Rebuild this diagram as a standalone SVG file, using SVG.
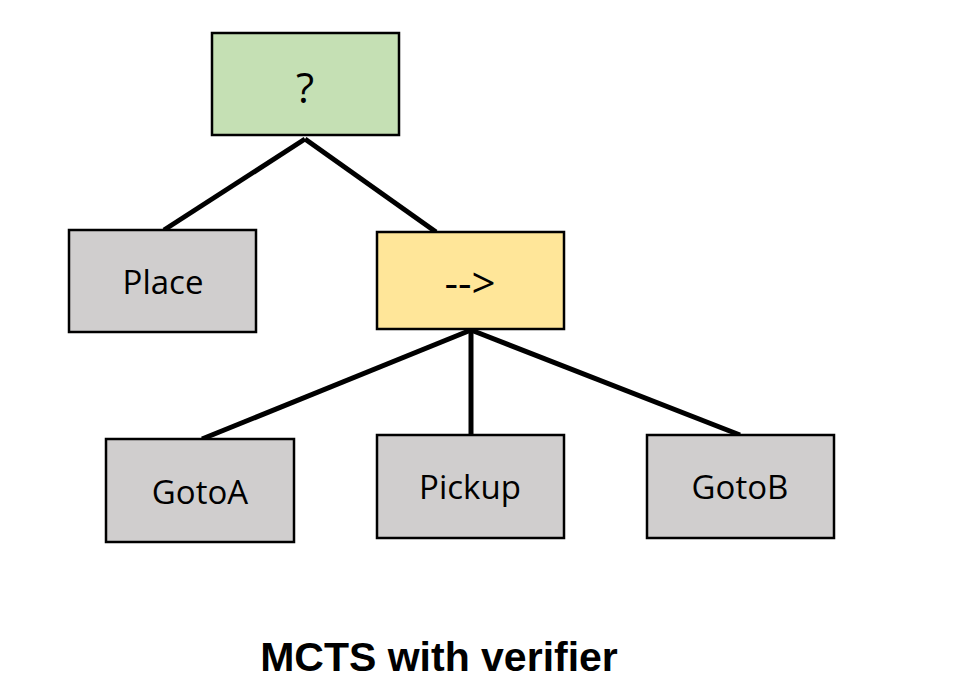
<svg xmlns="http://www.w3.org/2000/svg" width="964" height="680" viewBox="0 0 964 680">
<style>
.box{stroke:#000;stroke-width:2.5}
.lbl{font-family:"Open Sans","Liberation Sans",sans-serif;font-size:33px;fill:#000;text-anchor:middle}
.big{font-size:42px}
.edge{stroke:#000;stroke-width:5;fill:none}
.title{font-family:"Liberation Sans",Arial,sans-serif;font-weight:bold;font-size:41px;fill:#000;text-anchor:middle}
</style>
<rect width="964" height="680" fill="#fff"/>
<g id="connectors">
<line class="edge" x1="305" y1="139" x2="164" y2="230"/>
<line class="edge" x1="305" y1="139" x2="436" y2="232"/>
<line class="edge" x1="471" y1="330" x2="202" y2="439"/>
<line class="edge" x1="471" y1="330" x2="471" y2="435"/>
<line class="edge" x1="471" y1="330" x2="740" y2="435"/>
</g>
<g id="root">
<rect class="box" x="212" y="33" width="187" height="102" fill="#C5E0B4"/>
<text class="lbl big" x="305" y="103">?</text>
</g>
<g id="place">
<rect class="box" x="69" y="230" width="187" height="102" fill="#D0CECE"/>
<text class="lbl" x="163" y="294">Place</text>
</g>
<g id="sequence">
<rect class="box" x="377" y="232" width="187" height="97" fill="#FFE699"/>
<text class="lbl big" x="470" y="298">--&gt;</text>
</g>
<g id="gotoA">
<rect class="box" x="106" y="439" width="188" height="103" fill="#D0CECE"/>
<text class="lbl" x="200" y="504">GotoA</text>
</g>
<g id="pickup">
<rect class="box" x="377" y="435" width="187" height="103" fill="#D0CECE"/>
<text class="lbl" x="470" y="499">Pickup</text>
</g>
<g id="gotoB">
<rect class="box" x="647" y="435" width="187" height="103" fill="#D0CECE"/>
<text class="lbl" x="740" y="499">GotoB</text>
</g>
<g id="caption">
<text class="title" x="439" y="671">MCTS with verifier</text>
</g>
</svg>
